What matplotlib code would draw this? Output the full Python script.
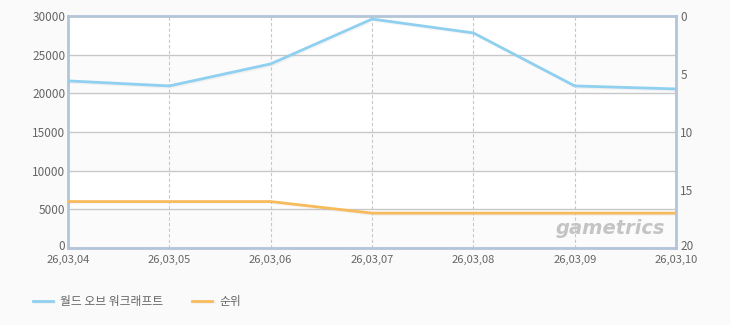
import matplotlib.pyplot as plt
import matplotlib.patheffects as pe
import matplotlib.transforms as mtrans

plt.rcParams['font.family'] = ['Noto Sans CJK KR', 'DejaVu Sans']

dates = ['26,03,04', '26,03,05', '26,03,06', '26,03,07', '26,03,08', '26,03,09', '26,03,10']
users = [21600, 20950, 23800, 29600, 27800, 20950, 20560]
rank = [16, 16, 16, 17, 17, 17, 17]
left_ticks = [0, 5000, 10000, 15000, 20000, 25000, 30000]
right_ticks = [0, 5, 10, 15, 20]

bg = '#fafafa'
spine_c = '#b3c5d9'
txt_c = '#666666'
blue = '#8fd0f0'
orange = '#f8bb5c'

fig = plt.figure(figsize=(7.3, 3.25), dpi=100, facecolor=bg)
ax = fig.add_axes([0.0932, 0.237, 0.833, 0.714])
ax.set_facecolor('white')

x = list(range(len(dates)))

# alternating bands
for i in range(0, 30000, 5000):
    if (i // 5000) % 2 == 0:
        ax.axhspan(i, i + 5000, color='#fbfbfb', zorder=0, lw=0)

ax.set_xlim(0, len(dates) - 1)
ax.set_ylim(0, 30000)
ax.set_yticks(left_ticks)
ax.set_yticklabels([str(v) for v in left_ticks])
ax.set_xticks(x)
ax.set_xticklabels(dates)
ax.grid(axis='y', color='#c8c8c8', lw=1, zorder=1)
ax.grid(axis='x', color='#c8c8c8', lw=0.8, ls=(0, (3, 2)), zorder=1)
ax.tick_params(axis='y', length=0, labelsize=8.5, colors=txt_c, pad=2)
ax.tick_params(axis='x', length=0, labelsize=8, colors=txt_c, pad=5)
for s in ax.spines.values():
    s.set_color(spine_c)
    s.set_linewidth(2)

shadow = [pe.SimpleLineShadow(offset=(1, -1), alpha=0.08, shadow_color='#888888'), pe.Normal()]
l1, = ax.plot(x, users, color=blue, lw=2, zorder=3, path_effects=shadow, label='월드 오브 워크래프트')

ax2 = ax.twinx()
ax2.set_ylim(20, 0)
ax2.set_yticks(right_ticks)
ax2.tick_params(length=0, labelsize=8.5, colors=txt_c, pad=3)
for s in ax2.spines.values():
    s.set_visible(False)
l2, = ax2.plot(x, rank, color=orange, lw=2, zorder=3, path_effects=shadow, label='순위')

# nudge the bottom-most y labels up a little, as in the original
up = mtrans.ScaledTranslation(0, 2 / 72, fig.dpi_scale_trans)
fig.canvas.draw()
for lbl in [ax.get_yticklabels()[0], ax2.get_yticklabels()[-1]]:
    lbl.set_transform(lbl.get_transform() + up)

ax.text(0.982, 0.086, 'gametrics', transform=ax.transAxes, ha='right', va='center',
        fontsize=14, fontweight='bold', style='italic', color='#c4c4c4',
        family='DejaVu Sans', zorder=2)

fig.legend(handles=[l1, l2], loc='lower left', bbox_to_anchor=(0.03, 0.02), ncol=2,
           frameon=False, fontsize=8.5, labelcolor=txt_c, handlelength=1.7,
           columnspacing=2.5, handletextpad=0.6)

fig.savefig('out.png', dpi=100, facecolor=bg)
